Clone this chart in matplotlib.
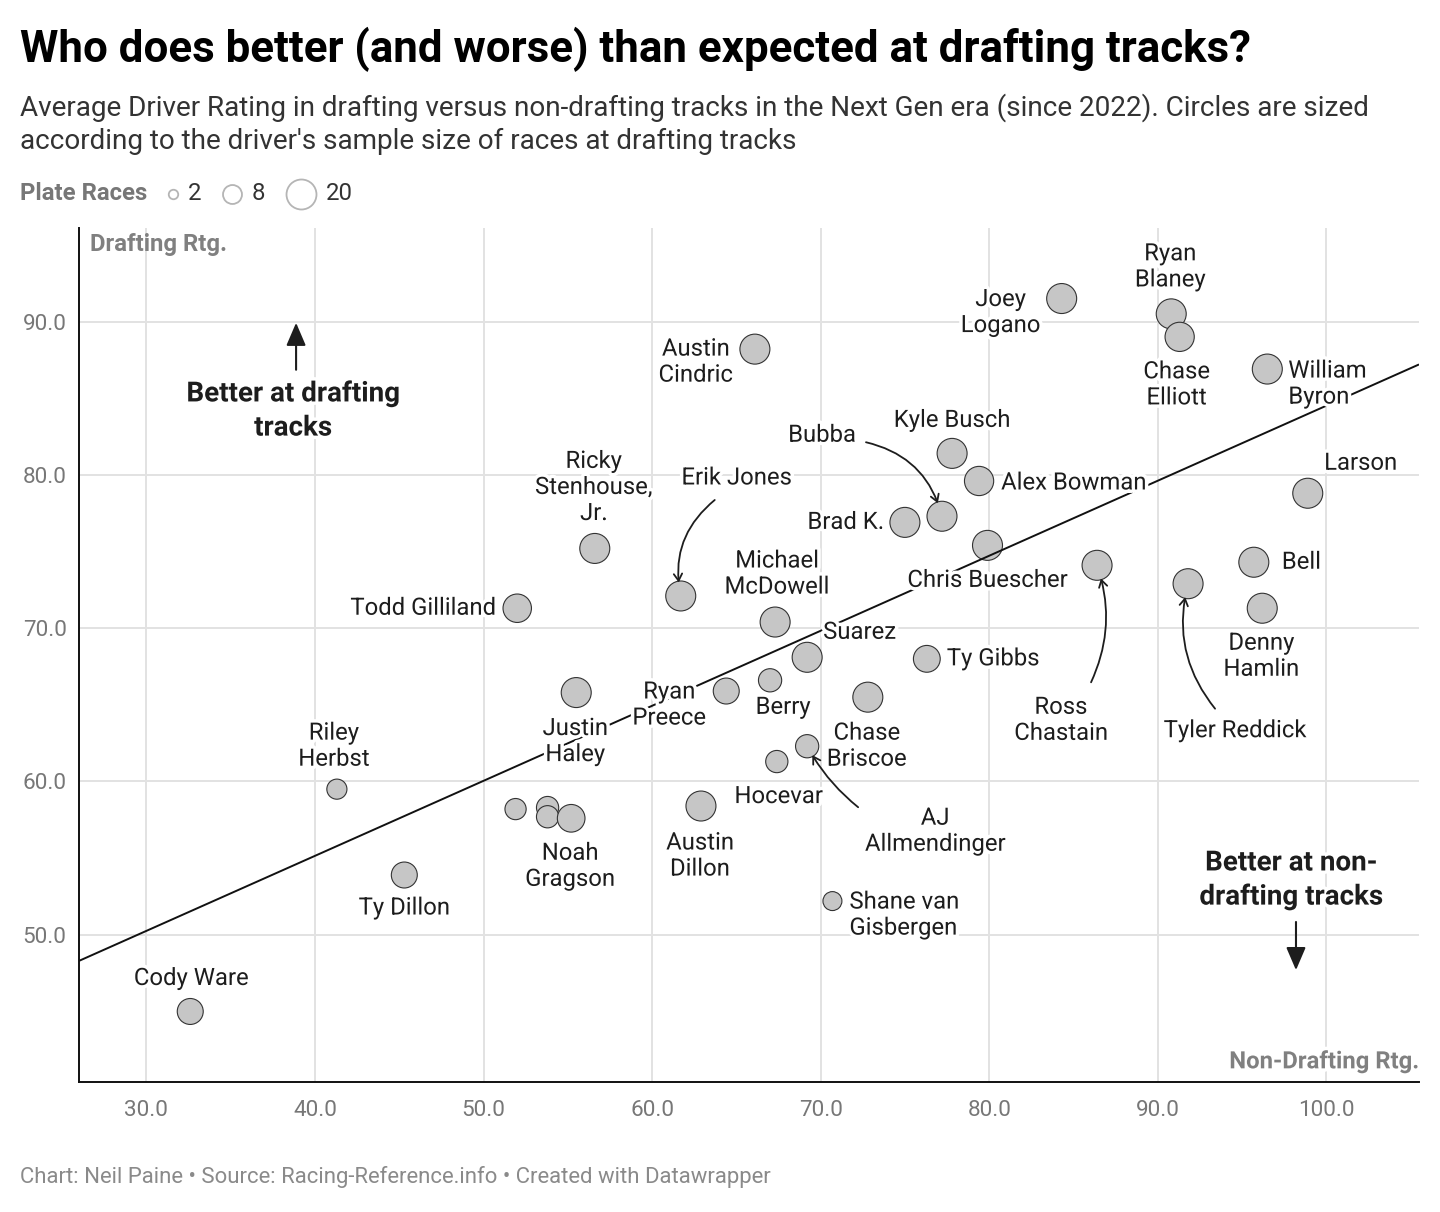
import matplotlib.pyplot as plt
from matplotlib import patheffects as pe

plt.rcParams['font.family'] = ['Roboto', 'DejaVu Sans']

# data: (non-drafting rating, drafting rating, plate races)
drivers = ["Cody Ware", "Riley Herbst", "Ty Dillon", "Todd Gilliland", "Ricky Stenhouse, Jr.",
           "Justin Haley", "unlabeled 1", "unlabeled 2", "unlabeled 3", "Noah Gragson",
           "Erik Jones", "Austin Cindric", "Michael McDowell", "Ryan Preece", "Berry",
           "Suarez", "Hocevar", "AJ Allmendinger", "Austin Dillon", "Shane van Gisbergen",
           "Chase Briscoe", "Ty Gibbs", "Brad K.", "Bubba", "Kyle Busch",
           "Alex Bowman", "Chris Buescher", "Joey Logano", "Ryan Blaney", "Chase Elliott",
           "William Byron", "Larson", "Bell", "Denny Hamlin", "Tyler Reddick", "Ross Chastain"]
non_drafting = [32.6, 41.3, 45.3, 52.0, 56.6,
                55.5, 51.9, 53.8, 53.8, 55.2,
                61.7, 66.1, 67.3, 64.4, 67.0,
                69.2, 67.4, 69.2, 62.9, 70.7,
                72.8, 76.3, 75.0, 77.2, 77.8,
                79.4, 79.9, 84.3, 90.8, 91.3,
                96.5, 98.9, 95.7, 96.2, 91.8, 86.4]
drafting = [45.0, 59.5, 53.9, 71.3, 75.2,
            65.8, 58.2, 58.3, 57.7, 57.6,
            72.1, 88.2, 70.4, 65.9, 66.6,
            68.1, 61.3, 62.3, 58.4, 52.2,
            65.5, 68.0, 76.9, 77.3, 81.4,
            79.6, 75.4, 91.5, 90.5, 89.0,
            86.9, 78.8, 74.3, 71.3, 72.9, 74.1]
plate_races = [15, 9, 15, 18, 20,
               20, 10, 11, 11, 17,
               20, 20, 20, 15, 12,
               20, 11, 12, 20, 8,
               20, 16, 20, 20, 20,
               19, 20, 20, 20, 19,
               20, 20, 20, 20, 20, 20]

trend_x = [26.0, 105.5]
trend_y = [48.3, 87.2]

x_ticks = [30, 40, 50, 60, 70, 80, 90, 100]
y_ticks = [50, 60, 70, 80, 90]
legend_sizes = [2, 8, 20]

# label text, offset in pixels from the circle centre, alignment
labels = {
    "Cody Ware": ("Cody Ware", 1, 33, "center"),
    "Riley Herbst": ("Riley\nHerbst", -3, 43, "center"),
    "Ty Dillon": ("Ty Dillon", 0, -33, "center"),
    "Todd Gilliland": ("Todd Gilliland", -21, 0, "right"),
    "Ricky Stenhouse, Jr.": ("Ricky\nStenhouse,\nJr.", -1, 61, "center"),
    "Justin Haley": ("Justin\nHaley", -1, -49, "center"),
    "Noah Gragson": ("Noah\nGragson", -1, -48, "center"),
    "Erik Jones": ("Erik Jones", 56, 118, "center"),
    "Austin Cindric": ("Austin\nCindric", -22, -13, "right"),
    "Michael McDowell": ("Michael\nMcDowell", 2, 48, "center"),
    "Ryan Preece": ("Ryan\nPreece", -57, -14, "center"),
    "Berry": ("Berry", 13, -27, "center"),
    "Suarez": ("Suarez", 16, 25, "left"),
    "Hocevar": ("Hocevar", 2, -35, "center"),
    "AJ Allmendinger": ("AJ\nAllmendinger", 128, -85, "center"),
    "Austin Dillon": ("Austin\nDillon", -1, -50, "center"),
    "Shane van Gisbergen": ("Shane van\nGisbergen", 17, -14, "left"),
    "Chase Briscoe": ("Chase\nBriscoe", -1, -49, "center"),
    "Ty Gibbs": ("Ty Gibbs", 20, 0, "left"),
    "Brad K.": ("Brad K.", -21, 0, "right"),
    "Bubba": ("Bubba", -120, 81, "center"),
    "Kyle Busch": ("Kyle Busch", 0, 33, "center"),
    "Alex Bowman": ("Alex Bowman", 22, -2, "left"),
    "Chris Buescher": ("Chris Buescher", 0, -35, "center"),
    "Joey Logano": ("Joey\nLogano", -61, -14, "center"),
    "Ryan Blaney": ("Ryan\nBlaney", -1, 47, "center"),
    "Chase Elliott": ("Chase\nElliott", -3, -48, "center"),
    "William Byron": ("William\nByron", 21, -15, "left"),
    "Larson": ("Larson", 53, 30, "center"),
    "Bell": ("Bell", 28, 0, "left"),
    "Denny Hamlin": ("Denny\nHamlin", -1, -48, "center"),
    "Tyler Reddick": ("Tyler Reddick", 47, -147, "center"),
    "Ross Chastain": ("Ross\nChastain", -36, -155, "center"),
}

# arrow start (pixel offset from circle centre) and curvature
arrows = {
    "Erik Jones": (34, 96, 0.3),
    "Bubba": (-76, 74, -0.3),
    "AJ Allmendinger": (51, -61, -0.1),
    "Tyler Reddick": (27, -125, -0.25),
    "Ross Chastain": (-6, -117, 0.2),
}


def marker_area(v):
    return 23.3 * v


W, H = 1440, 1212
fig = plt.figure(figsize=(W / 100, H / 100), dpi=100)
ax = fig.add_axes([79 / W, 1 - 1082 / H, 1340 / W, 854 / H])

ax.set_xlim(26.0, 105.5)
ax.set_ylim(40.4, 96.1)
ax.set_xticks(x_ticks)
ax.set_yticks(y_ticks)
ax.set_xticklabels([f"{t:.1f}" for t in x_ticks])
ax.set_yticklabels([f"{t:.1f}" for t in y_ticks])
ax.tick_params(length=0, labelsize=16.2, labelcolor="#777777")
ax.tick_params(axis="x", pad=13)
ax.tick_params(axis="y", pad=9)
ax.grid(True, color="#e2e2e2", lw=1.4)
ax.set_axisbelow(True)
for side in ["top", "right"]:
    ax.spines[side].set_visible(False)
for side in ["left", "bottom"]:
    ax.spines[side].set_color("#111111")
    ax.spines[side].set_linewidth(1.4)

ax.scatter(non_drafting, drafting, s=[marker_area(v) for v in plate_races],
           facecolor="#c6c6c6", edgecolor="#333333", linewidth=0.8, zorder=3)
ax.plot(trend_x, trend_y, color="#111111", lw=1.4, zorder=4, solid_capstyle="butt")

halo = [pe.withStroke(linewidth=5, foreground="white")]
for i, name in enumerate(drivers):
    if name not in labels:
        continue
    text, dx, dy, ha = labels[name]
    multi = "left" if ha == "left" else "center"
    ax.annotate(text, (non_drafting[i], drafting[i]), xytext=(dx, dy),
                textcoords="offset pixels", ha=ha, va="center", multialignment=multi,
                fontsize=17.2, color="#1d1d1d", linespacing=1.17,
                path_effects=halo, zorder=6)
    if name in arrows:
        sx, sy, rad = arrows[name]
        r_pt = 15 * (plate_races[i] / 20) ** 0.5 * 0.72
        ax.annotate("", (non_drafting[i], drafting[i]), xytext=(sx, sy),
                    textcoords="offset pixels",
                    arrowprops=dict(arrowstyle="->,head_length=0.5,head_width=0.3",
                                    color="#1d1d1d", lw=1.3, shrinkA=0, shrinkB=r_pt - 1,
                                    connectionstyle=f"arc3,rad={rad}"),
                    zorder=5)

# axis titles inside the plot
ax.text(11 / 1340, 0.994, "Drafting Rtg.", transform=ax.transAxes, ha="left", va="top",
        fontsize=17.2, fontweight="bold", color="#808080")
ax.text(1.0, 0.016, "Non-Drafting Rtg.", transform=ax.transAxes, ha="right", va="baseline",
        fontsize=17.2, fontweight="bold", color="#808080", path_effects=halo)

# direction notes
ax.text(0.1597, 0.7857, "Better at drafting\ntracks", transform=ax.transAxes,
        ha="center", va="center", fontsize=20, fontweight="bold", color="#1d1d1d",
        linespacing=1.34, path_effects=halo, zorder=6)
ax.annotate("", xy=(0.162, 0.889), xytext=(0.162, 0.834), xycoords="axes fraction",
            arrowprops=dict(arrowstyle="-|>,head_length=0.7,head_width=0.3",
                            color="#1d1d1d", lw=1.5, shrinkA=0, shrinkB=0, mutation_scale=20))
ax.text(0.9045, 0.2365, "Better at non-\ndrafting tracks", transform=ax.transAxes,
        ha="center", va="center", fontsize=20, fontweight="bold", color="#1d1d1d",
        linespacing=1.34, path_effects=halo, zorder=6)
ax.annotate("", xy=(0.9082, 0.131), xytext=(0.9082, 0.1874), xycoords="axes fraction",
            arrowprops=dict(arrowstyle="-|>,head_length=0.7,head_width=0.3",
                            color="#1d1d1d", lw=1.5, shrinkA=0, shrinkB=0, mutation_scale=20))

# header and footer
fig.text(20 / W, 1 - 62 / H, "Who does better (and worse) than expected at drafting tracks?",
         fontsize=31.6, fontweight="bold", color="#000000", va="baseline")
fig.text(20 / W, 1 - 116 / H,
         "Average Driver Rating in drafting versus non-drafting tracks in the Next Gen era (since 2022). Circles are sized",
         fontsize=20.1, color="#333333", va="baseline")
fig.text(20 / W, 1 - 149 / H, "according to the driver's sample size of races at drafting tracks",
         fontsize=20.1, color="#333333", va="baseline")
fig.text(20 / W, 1 - 1183 / H,
         "Chart: Neil Paine \u2022 Source: Racing-Reference.info \u2022 Created with Datawrapper",
         fontsize=15.9, color="#8a8a8a", va="baseline")

# size legend
leg = fig.add_axes([0, 0, 1, 1], facecolor="none")
leg.set_xlim(0, W)
leg.set_ylim(H, 0)
leg.axis("off")
leg.text(20, 194, "Plate Races", fontsize=17.2, fontweight="bold", color="#777777", va="center")
leg_x = [173, 232, 301]
for lx, v in zip(leg_x, legend_sizes):
    leg.scatter([lx], [194], s=marker_area(v), facecolor="white", edgecolor="#b5b5b5", linewidth=1.3)
    r = 15 * (v / 20) ** 0.5
    leg.text(lx + r + 10, 194, str(v), fontsize=17.2, color="#333333", va="center")

fig.savefig("out.png", dpi=100)
